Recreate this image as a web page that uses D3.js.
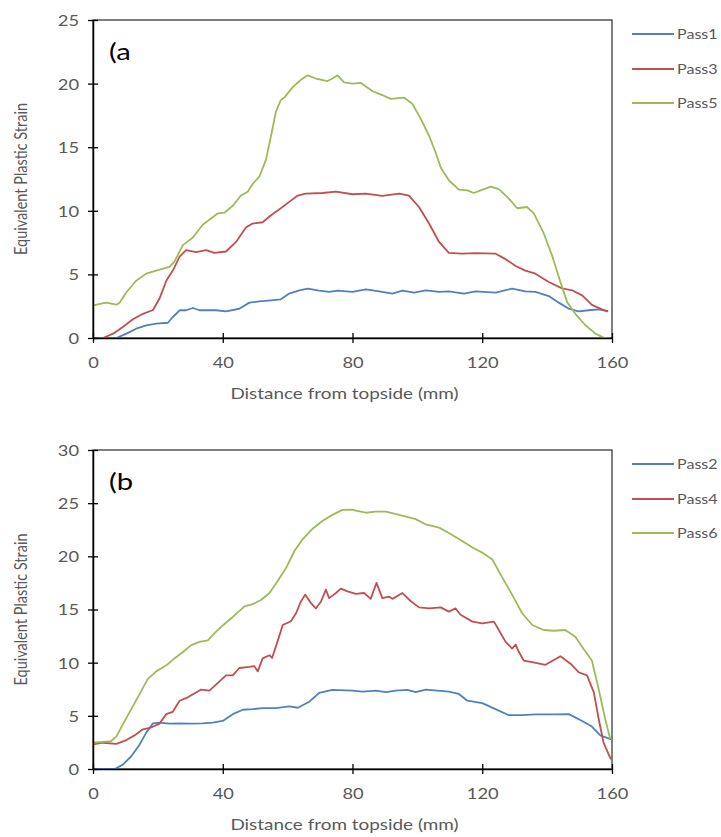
<!DOCTYPE html>
<html>
<head>
<meta charset="utf-8">
<script src="https://cdn.jsdelivr.net/npm/d3@7"></script>
<style>
  body { margin: 0; background: #fff; }
  text { font-family: Lato, "Open Sans", sans-serif; }
</style>
</head>
<body>
<div id="container"></div>
<script>
/* CONSTANTS AND GLOBALS */
const width = 721, height = 837;
const stretch = 1.22; // the source image is a bit wider than tall

const distTicks = [0, 40, 80, 120, 160];
const strainTicksA = [0, 5, 10, 15, 20, 25];
const strainTicksB = [0, 5, 10, 15, 20, 25, 30];
const namesA = ["Pass1", "Pass3", "Pass5"];
const namesB = ["Pass2", "Pass4", "Pass6"];
const colors = ["#4F81BD", "#C0504D", "#9BBB59"];

// [distance (mm), equivalent plastic strain]
const pass1 = [[0,0],[7.2,0],[10.3,0.34],[13.3,0.73],[16.4,1.0],[19.5,1.13],[23.1,1.2],[24.6,1.65],[26.7,2.18],[28.7,2.18],[30.8,2.36],[32.8,2.18],[37.9,2.18],[41,2.1],[45.1,2.3],[48.2,2.78],[51.3,2.88],[54.9,2.96],[57.9,3.04],[60.5,3.49],[63.6,3.75],[66.2,3.88],[69.7,3.72],[72.8,3.62],[75.4,3.72],[80,3.62],[84.1,3.83],[88.2,3.67],[92.3,3.49],[95.4,3.72],[99,3.56],[102.6,3.75],[106.7,3.62],[109.7,3.67],[114.4,3.49],[117.9,3.67],[124.1,3.56],[129.2,3.88],[133.3,3.67],[136.4,3.62],[140.5,3.3],[143.6,2.78],[146.7,2.3],[149.7,2.1],[152.8,2.18],[155.9,2.25],[158.8,2.1]];
const pass3 = [[0,0],[3.1,0],[6.2,0.34],[9.2,0.87],[12.3,1.47],[15.4,1.9],[18.5,2.2],[20.5,3.1],[22.6,4.5],[24.6,5.3],[26.7,6.4],[28.7,6.9],[31.8,6.76],[34.9,6.9],[37.4,6.7],[41,6.8],[44.1,7.55],[47.2,8.7],[49.2,9.0],[52.3,9.1],[54.9,9.65],[57.9,10.2],[60.5,10.7],[63.1,11.2],[65.6,11.35],[70.8,11.4],[74.9,11.5],[80,11.3],[84.1,11.35],[89.2,11.17],[94.4,11.35],[97.4,11.2],[100.5,10.3],[103.6,9.0],[106.7,7.55],[109.7,6.7],[113.8,6.63],[117.9,6.68],[124.1,6.63],[127.2,6.2],[130.3,5.66],[133.3,5.3],[136.4,5.06],[140.5,4.4],[144.6,3.9],[147.7,3.75],[150.8,3.35],[153.8,2.6],[156.9,2.25],[158.8,2.1]];
const pass5 = [[0,2.57],[4.1,2.78],[7.2,2.62],[8.2,2.78],[10.3,3.6],[13.3,4.5],[16.4,5.06],[19.5,5.3],[23.6,5.6],[25.1,6.0],[27.7,7.3],[30.8,7.9],[33.8,8.9],[36.9,9.5],[38.5,9.8],[40.5,9.85],[43.1,10.4],[45.6,11.2],[47.7,11.5],[49.2,12.1],[51.3,12.7],[53.3,14.0],[54.9,15.9],[56.4,17.8],[57.9,18.7],[59,18.9],[61.5,19.7],[64.1,20.3],[66.2,20.65],[68.7,20.4],[72.3,20.2],[73.8,20.4],[75.4,20.65],[77.4,20.1],[80,20.0],[82.6,20.05],[86.2,19.4],[89.2,19.1],[91.8,18.8],[95.9,18.9],[98.5,18.4],[101,17.25],[103.6,15.9],[105.6,14.6],[107.2,13.4],[109.7,12.4],[112.8,11.66],[115.4,11.6],[117.4,11.4],[119.5,11.6],[122.6,11.9],[125.1,11.7],[127.7,11.1],[130.8,10.2],[133.8,10.3],[135.9,9.8],[139,8.2],[141.5,6.5],[144.1,4.4],[146.2,2.8],[148.7,1.9],[151.8,1.0],[154.9,0.34],[157.4,0.03],[158.5,0]];

const pass2 = [[0,0],[6.7,0],[9.2,0.41],[11.8,1.2],[14.4,2.31],[16.4,3.42],[18.5,4.3],[20.5,4.37],[23.6,4.27],[26.7,4.3],[29.7,4.27],[33.8,4.3],[36.9,4.37],[40,4.52],[43.1,5.16],[46.2,5.57],[49.2,5.63],[52.3,5.73],[56.4,5.73],[60.5,5.89],[63.1,5.76],[66.7,6.33],[69.7,7.15],[73.8,7.44],[80,7.37],[83.1,7.28],[87.2,7.37],[90.3,7.22],[93.3,7.37],[96.9,7.44],[99.5,7.22],[102.6,7.47],[106.2,7.37],[109.7,7.28],[112.8,7.06],[115.4,6.42],[120,6.2],[124.1,5.63],[128.2,5.06],[132.3,5.06],[136.4,5.13],[142.6,5.13],[146.7,5.16],[150.8,4.52],[153.8,3.99],[156.4,3.16],[159.7,2.78]];
const pass4 = [[0,2.31],[3.1,2.47],[7.2,2.37],[10.3,2.72],[12.8,3.16],[15.4,3.73],[17.9,3.9],[20.5,4.27],[22.6,5.16],[24.6,5.38],[26.7,6.42],[29.2,6.74],[31.8,7.2],[33.3,7.47],[35.9,7.37],[38.5,8.1],[41,8.8],[43.1,8.8],[45.1,9.5],[48.2,9.6],[49.7,9.68],[50.8,9.18],[52.3,10.4],[54.4,10.7],[55.2,10.44],[56.9,12.0],[58.5,13.54],[61,13.9],[62.6,14.65],[64.1,15.76],[65.4,16.4],[67.2,15.6],[68.7,15.1],[70.3,15.76],[71.8,16.87],[72.8,16.07],[74.9,16.55],[76.4,16.96],[78.5,16.7],[81,16.46],[83.6,16.55],[85.6,16.0],[87.4,17.5],[89.2,16.07],[91.3,16.2],[92.3,16.0],[95.4,16.55],[97.9,15.8],[100.5,15.2],[103.6,15.1],[107.2,15.2],[109.7,14.8],[111.8,15.1],[113.3,14.5],[117,13.86],[120,13.7],[123.6,13.86],[125.1,13.07],[127.2,11.96],[129.2,11.33],[130.3,11.7],[131.3,11.0],[132.8,10.2],[135.4,10.06],[139.5,9.8],[144.1,10.6],[147.2,9.9],[149.7,9.1],[152.3,8.8],[154.4,7.2],[155.9,4.7],[157.4,2.47],[159,1.36],[159.7,0.9]];
const pass6 = [[0,2.47],[3.1,2.56],[5.6,2.63],[7.2,3.04],[9.2,4.2],[11.8,5.63],[14.4,7.06],[16.9,8.48],[19.5,9.18],[22.6,9.75],[25.1,10.4],[27.7,11.0],[30.3,11.65],[32.8,11.96],[35.4,12.1],[37.4,12.75],[40,13.5],[43.1,14.3],[46.7,15.3],[49.2,15.5],[51.8,15.9],[54.4,16.55],[56.9,17.66],[59.5,18.9],[62.1,20.5],[64.6,21.6],[67.7,22.6],[70.8,23.35],[73.8,23.9],[76.9,24.37],[80,24.4],[81,24.3],[84.1,24.1],[87.2,24.2],[90.3,24.2],[94.4,23.9],[99.5,23.5],[102.6,23.0],[106.7,22.7],[109.7,22.2],[113.8,21.45],[117.4,20.76],[120,20.35],[123.1,19.7],[126.2,18.0],[129.2,16.4],[132.3,14.65],[135.4,13.54],[138.9,13.07],[142.1,13.0],[145.6,13.07],[148.7,12.44],[151.3,11.27],[153.8,10.2],[155.9,7.5],[157.9,4.7],[159.5,2.78]];

const panels = [
  { label: "(a", top: 20, bottom: 338, yMax: 25, yTicks: strainTicksA, names: namesA, series: [pass1, pass3, pass5] },
  { label: "(b", top: 450, bottom: 769, yMax: 30, yTicks: strainTicksB, names: namesB, series: [pass2, pass4, pass6] }
];
const plotLeft = 93, plotRight = 612;

let svg;

init();

function stretchedText(g, x, y, txt, s = stretch) {
  return g.append("text")
    .attr("transform", `translate(${x},${y}) scale(${s},1)`)
    .text(txt);
}

function init() {
  svg = d3.select("#container").append("svg")
    .attr("width", width)
    .attr("height", height);

  panels.forEach(drawPanel);
}

function drawPanel(p) {
  const g = svg.append("g");

  const xScale = d3.scaleLinear().domain([0, 160]).range([plotLeft, plotRight]);
  const yScale = d3.scaleLinear().domain([0, p.yMax]).range([p.bottom, p.top]);

  // frame (top + right)
  g.append("rect")
    .attr("x", plotLeft).attr("y", p.top)
    .attr("width", plotRight - plotLeft).attr("height", p.bottom - p.top)
    .attr("fill", "none").attr("stroke", "#3a3a3a").attr("stroke-width", 1.3);

  const line = d3.line().x(d => xScale(d[0])).y(d => yScale(d[1]));

  p.series.forEach((s, i) => {
    g.append("path")
      .datum(s)
      .attr("d", line)
      .attr("fill", "none")
      .attr("stroke", colors[i])
      .attr("stroke-width", 1.8)
      .attr("stroke-linejoin", "round");
  });

  // axes
  const yAxis = g.append("g")
    .attr("transform", `translate(${plotLeft},0)`)
    .call(d3.axisLeft(yScale).tickValues(p.yTicks).tickSizeOuter(0));
  const xAxis = g.append("g")
    .attr("transform", `translate(0,${p.bottom})`)
    .call(d3.axisBottom(xScale).tickValues(distTicks).tickSizeOuter(0));

  [yAxis, xAxis].forEach(a => {
    a.select(".domain").attr("stroke", "#000").attr("stroke-width", 1.5);
    a.selectAll(".tick line").attr("stroke", "#000").attr("stroke-width", 1.3);
    a.selectAll(".tick text")
      .attr("fill", "#595959")
      .style("font-size", "15px")
      .style("font-family", "Lato, 'Open Sans', sans-serif");
  });
  yAxis.selectAll(".tick line").attr("x1", -5).attr("x2", 5);
  yAxis.selectAll(".tick text")
    .attr("x", -14 / stretch).attr("dy", "0.36em")
    .attr("transform", `scale(${stretch},1)`);
  xAxis.selectAll(".tick line").attr("y1", -5).attr("y2", 5);
  xAxis.selectAll(".tick text")
    .attr("y", 30).attr("dy", null)
    .attr("transform", `scale(${stretch},1)`)
    .attr("x", 0);

  // panel label
  stretchedText(g, 109, p.top + 40, p.label)
    .style("font-size", "24px")
    .attr("fill", "#000");

  // axis titles
  stretchedText(g, (plotLeft + plotRight) / 2 - 8, p.bottom + 61, "Distance from topside (mm)")
    .attr("text-anchor", "middle")
    .style("font-size", "15.5px")
    .attr("fill", "#595959");

  g.append("text")
    .attr("transform", `translate(27,${(p.top + p.bottom) / 2}) scale(${stretch},1) rotate(-90)`)
    .attr("text-anchor", "middle")
    .style("font-size", "14.5px")
    .attr("fill", "#595959")
    .text("Equivalent Plastic Strain");

  // legend
  const legend = g.append("g");
  const legendY = [p.top + 14, p.top + 49, p.top + 83];
  p.names.forEach((n, i) => {
    legend.append("line")
      .attr("x1", 632).attr("x2", 674)
      .attr("y1", legendY[i]).attr("y2", legendY[i])
      .attr("stroke", colors[i]).attr("stroke-width", 1.8);
    stretchedText(legend, 677, legendY[i] + 5, n, 1.15)
      .style("font-size", "14px")
      .attr("fill", "#595959");
  });
}
</script>
</body>
</html>
